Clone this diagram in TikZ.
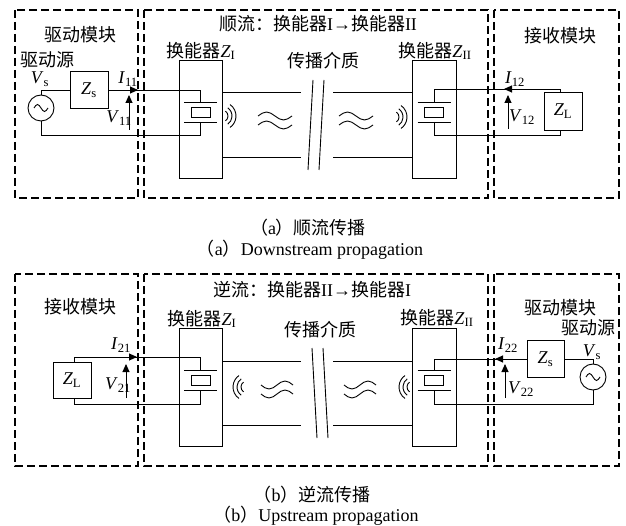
\documentclass[tikz,border=0pt]{standalone}
\usepackage{fontspec}
\setmainfont{Liberation Serif}
\newfontfamily\cjk{Noto Sans CJK SC}
\usetikzlibrary{arrows.meta}
\newcommand\lbl[2]{\textit{#1}\textsubscript{#2}}
\tikzset{
	modbox/.style={line width=1.1pt, dash pattern=on 8pt off 4pt},
	wire/.style={line width=0.9pt},
	comp/.style={draw, line width=0.9pt, inner sep=0pt},
	flow/.style={line width=0.9pt, -{Triangle[length=8pt,width=7pt]}},
	txt/.style={inner sep=0pt, font=\fontsize{18}{20}\selectfont}
}

\begin{document}
\begin{tikzpicture}[x=1pt, y=-1pt]
	\useasboundingbox (0,0) rectangle (626,526);
	\foreach \ya/\yb in {10/198, 274/466} {
		\draw[modbox] (15,\ya) rectangle (138,\yb);
		\draw[modbox] (144,\ya) rectangle (488,\yb);
		\draw[modbox] (494,\ya) rectangle (619,\yb);
	}
	\node[comp, minimum width=43, minimum height=118] (trdA1) at (200.5,119) {};
	\node[comp, minimum width=44, minimum height=118] (trdA2) at (434,119) {};
	\node[comp, minimum width=43, minimum height=118] (trdB1) at (200.5,387) {};
	\node[comp, minimum width=44, minimum height=118] (trdB2) at (434,387) {};
	\foreach \nm/\cx/\cy in {A1/200.5/112, A2/434/112, B1/200.5/380, B2/434/380} {
		\node[comp, minimum width=19, minimum height=10] (xt\nm) at (\cx,\cy) {};
		\draw[wire] (\cx-16.5,\cy-10) -- (\cx+16.5,\cy-10);
		\draw[wire] (\cx-16.5,\cy+10) -- (\cx+16.5,\cy+10);
		\coordinate (pl\nm t) at (\cx,\cy-10);
		\coordinate (pl\nm b) at (\cx,\cy+10);
	}
	\foreach \t/\y in {A/92, A/157, B/361, B/425} {
		\draw[wire] (trd\t1.east |- 0,\y) -- (301,\y);
		\draw[wire] (333,\y) -- (trd\t2.west |- 0,\y);
	}
	\foreach \dx in {0,11} {
		\draw[wire] (313+\dx,80) -- (308+\dx,170);
		\draw[wire] (312+\dx,348) -- (317+\dx,438);
	}
	\foreach \cx/\cy in {275/116, 275/125, 356/116, 356/125}
		\draw[wire] (\cx-17,\cy) sin ++(8.5,-4) cos ++(8.5,4) sin ++(8.5,4) cos ++(8.5,-4);
	\foreach \cx/\cy in {277/385, 277/394, 360/385, 360/394}
		\draw[wire] (\cx-16,\cy) sin ++(8,4) cos ++(8,-4) sin ++(8,-4) cos ++(8,4);
	\foreach \r in {6,10,14} {
		\draw[wire] (222,116) ++(-55:\r) arc (-55:55:\r);
		\draw[wire] (393,117) ++(-55:\r) arc (-55:55:\r);
		\draw[wire] (247,387) ++(125:\r) arc (125:235:\r);
		\draw[wire] (413,387) ++(125:\r) arc (125:235:\r);
	}
	\node[comp, circle, minimum size=26] (srcA) at (41,108) {};
	\node[comp, circle, minimum size=26] (srcB) at (593,377) {};
	\foreach \s in {srcA, srcB}
		\draw[wire] (\s.center) ++(-7,0) sin ++(3.5,-3.5) cos ++(3.5,3.5) sin ++(3.5,3.5) cos ++(3.5,-3.5);
	\node[comp, txt, minimum width=38, minimum height=37] (zsA) at (89,90) {\lbl{Z}{s}};
	\node[comp, txt, minimum width=38, minimum height=38] (zlA) at (563,111) {\lbl{Z}{L}};
	\node[comp, txt, minimum width=38, minimum height=36] (zlB) at (72,380) {\lbl{Z}{L}};
	\node[comp, txt, minimum width=37, minimum height=37] (zsB) at (545.5,359) {\lbl{Z}{s}};
	\draw[wire] (srcA.north) |- (zsA.west);
	\draw[wire] (zsA.east) -| (plA1t);
	\draw[wire] (srcA.south) -- ++(0,14) -| (plA1b);
	\coordinate (cA2t) at (560,89);
	\coordinate (cA2b) at (560,135);
	\draw[wire] (plA2t) |- (cA2t) -- (cA2t |- zlA.north);
	\draw[wire] (plA2b) |- (cA2b) -- (cA2b |- zlA.south);
	\coordinate (cB1t) at (74,357);
	\coordinate (cB1b) at (74,404);
	\draw[wire] (cB1t |- zlB.north) -- (cB1t) -| (plB1t);
	\draw[wire] (cB1b |- zlB.south) -- (cB1b) -| (plB1b);
	\draw[wire] (plB2t) |- (zsB.west);
	\draw[wire] (zsB.east) -| (srcB.north);
	\draw[wire] (srcB.south) -- ++(0,14) -| (plB2b);
	\coordinate (iA1) at (138,90);
	\coordinate (iA2) at (504,89);
	\coordinate (iB1) at (137,357);
	\coordinate (iB2) at (495,359);
	\coordinate (vA1) at (129,95);
	\coordinate (vA2) at (508,95);
	\coordinate (vB1) at (126,364);
	\coordinate (vB2) at (505,364);
	\foreach \c/\dx/\dy in {iA1/-14/0, iA2/14/0, iB1/-14/0, iB2/14/0, vA1/0/35, vA2/0/34, vB1/0/34, vB2/0/34}
		\draw[flow] (\c) ++(\dx,\dy) -- (\c);
	\node[txt] (lblVsA) at (40,79) {\lbl{V}{s}};
	\node[txt] (lblI11) at (128,79) {\lbl{I}{11}};
	\node[txt] (lblV11) at (119,118) {\lbl{V}{11}};
	\node[txt] (lblI12) at (515,79) {\lbl{I}{12}};
	\node[txt] (lblV12) at (522,117) {\lbl{V}{12}};
	\node[txt] (lblI21) at (121,345) {\lbl{I}{21}};
	\node[txt] (lblV21) at (118,385) {\lbl{V}{21}};
	\node[txt] (lblI22) at (508,345) {\lbl{I}{22}};
	\node[txt] (lblV22) at (521,389) {\lbl{V}{22}};
	\node[txt] (lblVsB) at (592,352) {\lbl{V}{s}};
	\node[txt] (drvA) at (80,35) {\cjk 驱动模块};
	\node[txt] (srcTxtA) at (47,60) {\cjk 驱动源};
	\node[txt] (rcvA) at (560,36) {\cjk 接收模块};
	\node[txt] (ttlA) at (318,24) {{\cjk 顺流：换能器}I→{\cjk 换能器}II};
	\node[txt] (medA) at (323,61) {\cjk 传播介质};
	\node[txt] (nmA1) at (201,51) {{\cjk 换能器}\lbl{Z}{I}};
	\node[txt] (nmA2) at (435,51) {{\cjk 换能器}\lbl{Z}{II}};
	\node[txt] (rcvB) at (80,307) {\cjk 接收模块};
	\node[txt] (drvB) at (560,308) {\cjk 驱动模块};
	\node[txt] (srcTxtB) at (588,328) {\cjk 驱动源};
	\node[txt] (ttlB) at (312,290) {{\cjk 逆流：换能器}II→{\cjk 换能器}I};
	\node[txt] (medB) at (320,330) {\cjk 传播介质};
	\node[txt] (nmB1) at (202,319) {{\cjk 换能器}\lbl{Z}{I}};
	\node[txt] (nmB2) at (437,318) {{\cjk 换能器}\lbl{Z}{II}};
	\node[txt] (capA) at (308,228) {{\cjk （}a{\cjk ）顺流传播}};
	\node[txt] (capAen) at (310,250) {{\cjk （}a{\cjk ）}Downstream propagation};
	\node[txt] (capB) at (312,495) {{\cjk （}b{\cjk ）逆流传播}};
	\node[txt] (capBen) at (316,516) {{\cjk （}b{\cjk ）}Upstream propagation};
\end{tikzpicture}
\end{document}
